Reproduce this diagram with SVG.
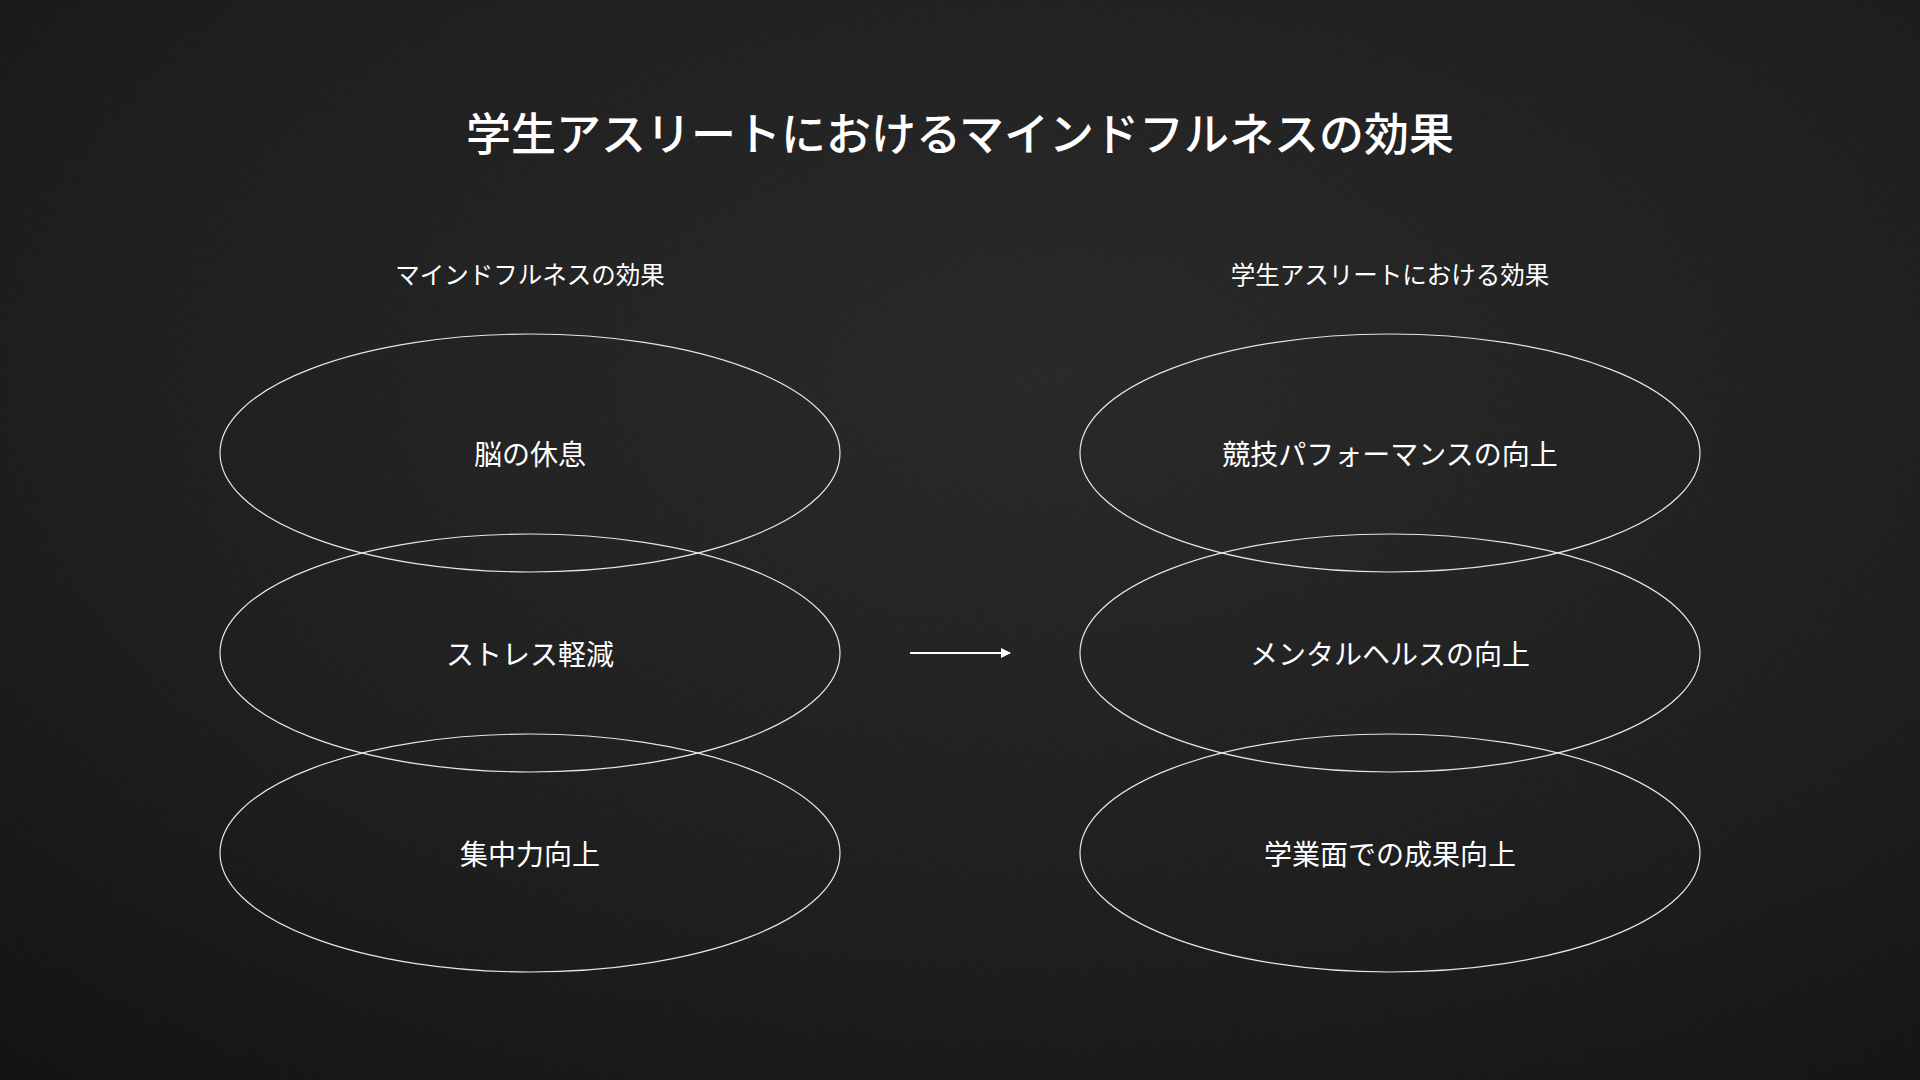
<svg xmlns="http://www.w3.org/2000/svg" width="1920" height="1080" viewBox="0 0 1920 1080">
  <defs>
    <radialGradient id="bg" cx="0.55" cy="0.35" r="0.85">
      <stop offset="0" stop-color="#232323"/>
      <stop offset="0.6" stop-color="#181818"/>
      <stop offset="1" stop-color="#0c0c0c"/>
    </radialGradient>
    <filter id="grain" x="0" y="0" width="100%" height="100%">
      <feTurbulence type="fractalNoise" baseFrequency="0.9" numOctaves="2" seed="3" result="n"/>
      <feColorMatrix type="matrix" values="0 0 0 0 1  0 0 0 0 1  0 0 0 0 1  0 0 0 0.06 0"/>
    </filter>
    <marker id="arrow" viewBox="0 0 10 10" refX="9" refY="5" markerWidth="5" markerHeight="5" orient="auto">
      <path d="M0,0 L10,5 L0,10 z" fill="#ffffff"/>
    </marker>
    <style>
      .title { font-family: "Noto Sans CJK JP", "Noto Sans", sans-serif; font-size: 45px; font-weight: 500; fill: #ffffff; text-anchor: middle; dominant-baseline: central; }
      .sub { font-family: "Noto Sans CJK JP", "Noto Sans", sans-serif; font-size: 24.5px; font-weight: 400; fill: #ffffff; text-anchor: middle; dominant-baseline: central; }
      .label { font-family: "Noto Sans CJK JP", "Noto Sans", sans-serif; font-size: 28px; font-weight: 400; fill: #ffffff; text-anchor: middle; dominant-baseline: central; }
      .oval { fill: none; stroke: #e6e6e6; stroke-width: 1.2; }
      .conn { stroke: #ffffff; stroke-width: 2; fill: none; }
    </style>
  </defs>

  <rect x="0" y="0" width="1920" height="1080" fill="url(#bg)"/>
  <rect x="0" y="0" width="1920" height="1080" filter="url(#grain)"/>

  <text class="title" x="960" y="131">学生アスリートにおけるマインドフルネスの効果</text>
  <text class="sub" x="530" y="273">マインドフルネスの効果</text>
  <text class="sub" x="1390" y="273">学生アスリートにおける効果</text>

  <g id="node-brain-rest">
    <ellipse class="oval" cx="530" cy="453" rx="310" ry="119"/>
    <text class="label" x="530" y="453">脳の休息</text>
  </g>
  <g id="node-stress">
    <ellipse class="oval" cx="530" cy="653" rx="310" ry="119"/>
    <text class="label" x="530" y="653">ストレス軽減</text>
  </g>
  <g id="node-focus">
    <ellipse class="oval" cx="530" cy="853" rx="310" ry="119"/>
    <text class="label" x="530" y="853">集中力向上</text>
  </g>
  <g id="node-performance">
    <ellipse class="oval" cx="1390" cy="453" rx="310" ry="119"/>
    <text class="label" x="1390" y="453">競技パフォーマンスの向上</text>
  </g>
  <g id="node-mental">
    <ellipse class="oval" cx="1390" cy="653" rx="310" ry="119"/>
    <text class="label" x="1390" y="653">メンタルヘルスの向上</text>
  </g>
  <g id="node-academic">
    <ellipse class="oval" cx="1390" cy="853" rx="310" ry="119"/>
    <text class="label" x="1390" y="853">学業面での成果向上</text>
  </g>

  <g id="connectors">
    <line class="conn" x1="910" y1="653" x2="1010" y2="653" marker-end="url(#arrow)"/>
  </g>
</svg>
